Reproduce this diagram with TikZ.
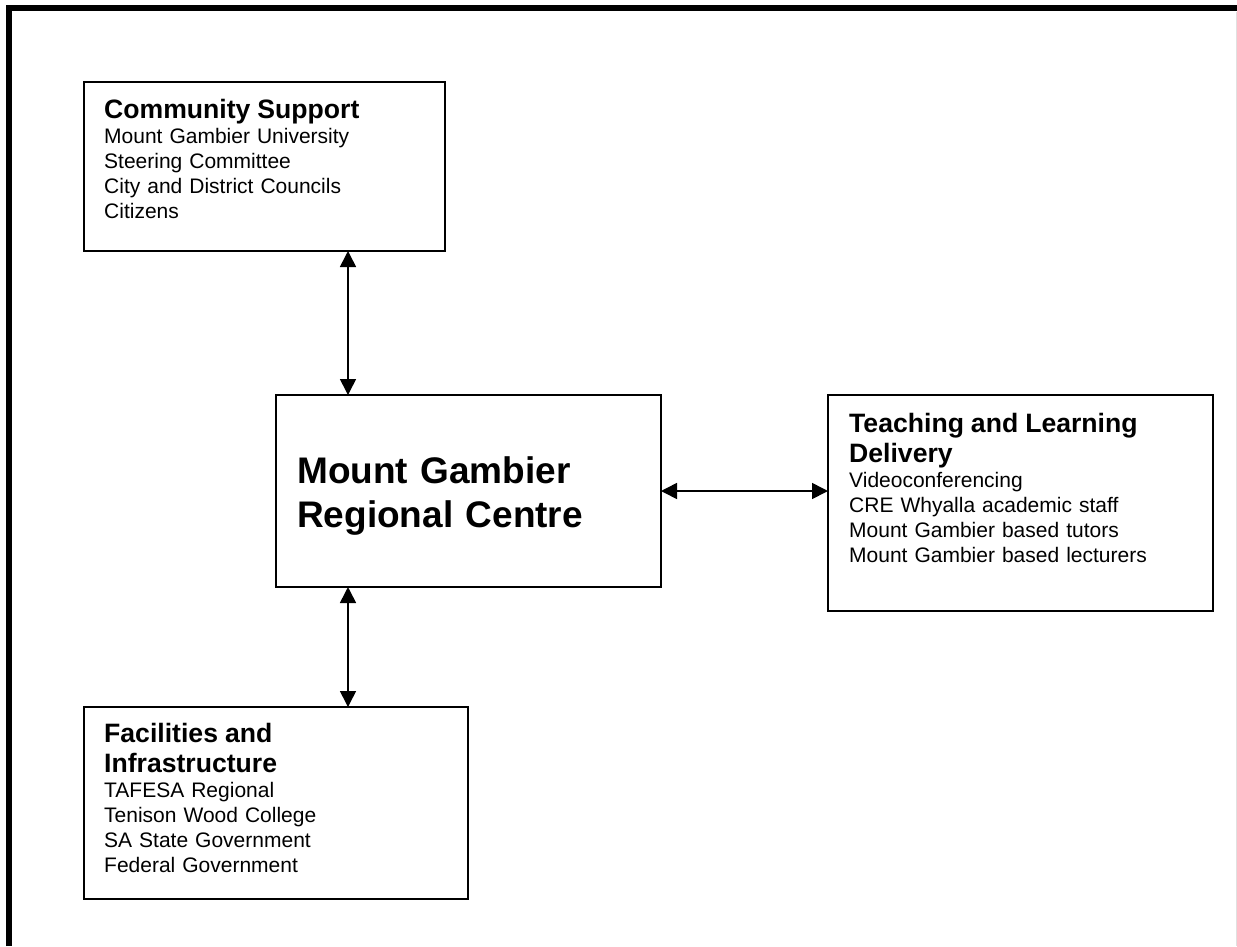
\documentclass[tikz,border=0pt]{standalone}
\usepackage{fontspec}
\setmainfont{Liberation Sans}
\usetikzlibrary{arrows.meta}

% font sizes for headings, body lines and the central title
\newcommand{\hdfont}{\fontsize{26.6}{30}\selectfont\bfseries}
\newcommand{\bdfont}{\fontsize{21}{25}\selectfont}
\newcommand{\ctfont}{\fontsize{37}{44}\selectfont\bfseries}
\newcommand{\hdstrut}{\rule{0pt}{22pt}}

\begin{document}
\begin{tikzpicture}[x=1pt, y=-1pt,
  box/.style={draw=black, line width=1.6pt, fill=white, inner sep=0pt, outer sep=0pt},
  txt/.style={anchor=north west, inner sep=0pt, align=left, text width=360pt, font=\bdfont},
  link/.style={line width=1.6pt, {Triangle[length=16pt,width=16pt]}-{Triangle[length=16pt,width=16pt]}}]
  \useasboundingbox (0,0) rectangle (1237,946);

  % page frame
  \draw[line width=6pt] (9,946) -- (9,8) -- (1237,8);
  \draw[black!12, line width=1pt] (1236.5,12) -- (1236.5,946);

  % boxes
  \node[box, minimum width=361pt, minimum height=169pt] (cs) at (264.5,166.5) {};
  \node[box, minimum width=385pt, minimum height=192pt] (hub) at (468.5,491) {};
  \node[box, minimum width=385pt, minimum height=216pt] (tl) at (1020.5,503) {};
  \node[box, minimum width=384pt, minimum height=192pt] (fi) at (276,803) {};

  % box texts
  \node[txt] (cstext) at (104,96) {{\hdfont\hdstrut Community Support\par}
    Mount Gambier University\\
    Steering Committee\\
    City and District Councils\\
    Citizens};
  \node[txt, font=\ctfont] (hubtext) at (297,453) {\rule{0pt}{30pt}Mount Gambier\\
    Regional Centre};
  \node[txt] (tltext) at (849,410) {{\hdfont\hdstrut Teaching and Learning\\ Delivery\par}
    Videoconferencing\\
    CRE Whyalla academic staff\\
    Mount Gambier based tutors\\
    Mount Gambier based lecturers};
  \node[txt] (fitext) at (104,720) {{\hdfont\hdstrut Facilities and\\ Infrastructure\par}
    TAFESA Regional\\
    Tenison Wood College\\
    SA State Government\\
    Federal Government};

  % connectors
  \coordinate (axis) at (348,0);
  \draw[link] (cs.south -| axis) -- (hub.north -| axis);
  \draw[link] (hub.south -| axis) -- (fi.north -| axis);
  \draw[link] (hub.east) -- (tl.west |- hub.east);
\end{tikzpicture}
\end{document}
